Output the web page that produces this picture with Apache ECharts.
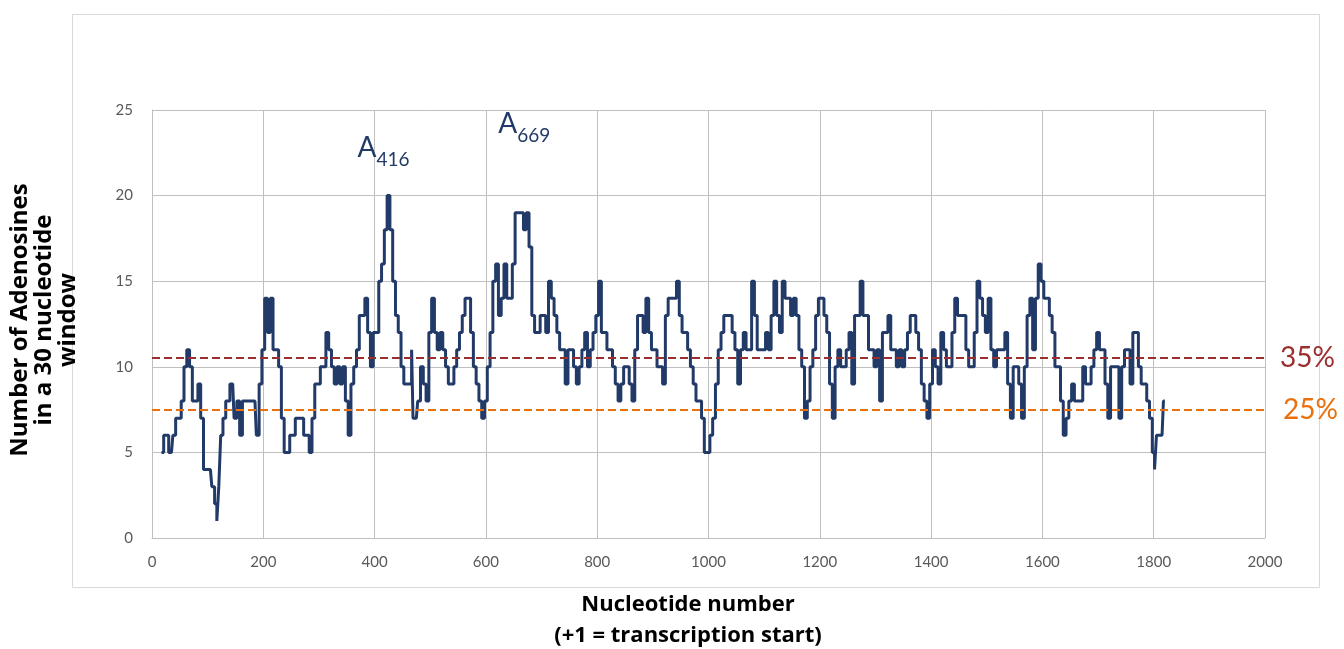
<!DOCTYPE html>
<html>
<head>
<meta charset="utf-8">
<script src="https://cdn.jsdelivr.net/npm/echarts@6/dist/echarts.min.js"></script>
<style>
  html, body { margin: 0; padding: 0; background: #fff; }
  #chart { width: 1344px; height: 649px; }
</style>
</head>
<body>
<div id="chart"></div>
<script>
// nucleotide position (x) and adenosine count in the 30 nt window (y)
const positions = [17,25,35,40,45,50,55,60,65,70,75,80,85,90,95,105,110,115,118,122,125,130,135,145,150,155,160,165,175,185,190,195,200,205,210,215,220,225,230,235,240,245,250,255,260,265,270,275,280,285,290,295,300,305,310,315,320,325,330,335,340,345,350,355,360,365,370,375,380,385,390,395,400,405,410,415,420,425,430,435,440,445,450,455,460,465,468,470,475,480,485,490,495,500,505,510,515,520,525,530,535,540,545,550,555,560,565,570,575,580,585,590,595,600,605,610,615,620,625,630,635,640,645,650,655,660,665,670,675,680,685,690,695,700,705,710,715,720,725,730,735,740,745,750,755,760,765,770,775,780,785,790,795,800,805,810,815,820,825,830,835,840,845,850,855,860,865,870,875,880,885,890,895,900,905,910,915,920,925,930,935,940,945,950,955,960,965,970,975,980,985,990,995,1000,1005,1010,1015,1020,1025,1030,1035,1040,1045,1050,1055,1060,1065,1070,1075,1080,1085,1090,1095,1100,1105,1110,1115,1120,1125,1130,1135,1140,1145,1150,1155,1160,1165,1170,1175,1180,1185,1190,1195,1200,1205,1210,1215,1220,1225,1230,1235,1240,1245,1250,1255,1260,1265,1270,1275,1280,1285,1290,1295,1300,1305,1310,1315,1320,1325,1330,1335,1340,1345,1350,1355,1360,1365,1370,1375,1380,1385,1390,1395,1400,1405,1410,1415,1420,1425,1430,1435,1440,1445,1450,1455,1460,1465,1470,1475,1480,1485,1490,1495,1500,1505,1510,1515,1520,1525,1530,1535,1540,1545,1550,1555,1560,1565,1570,1575,1580,1585,1590,1595,1600,1605,1610,1615,1620,1625,1630,1635,1640,1645,1650,1655,1660,1665,1670,1675,1680,1685,1690,1695,1700,1705,1710,1715,1720,1725,1730,1735,1740,1745,1750,1755,1760,1765,1770,1775,1780,1785,1790,1795,1800,1803,1807,1815,1820];
const counts = [5,6,5,6,7,7,8,10,11,10,8,8,9,7,4,4,3,2,1,3,6,7,8,9,7,8,6,8,8,8,6,9,11,14,12,14,11,11,10,7,5,5,6,6,7,7,7,6,6,5,7,9,9,10,10,12,11,10,9,10,9,10,8,6,9,10,11,13,13,14,12,10,12,12,15,16,18,20,18,15,13,12,10,9,9,9,11,7,7,8,10,9,8,12,14,12,11,12,11,10,9,9,10,11,12,13,14,14,12,10,9,8,7,8,10,12,15,16,13,14,16,14,14,16,19,19,19,18,19,17,13,12,12,13,13,12,15,14,13,12,11,11,9,11,11,10,9,10,11,12,10,11,12,13,15,12,12,11,11,10,9,8,9,10,10,9,8,11,13,13,12,14,12,11,11,10,10,9,13,14,14,14,15,13,12,12,11,10,9,8,8,7,5,5,6,7,9,11,12,13,13,13,12,11,9,11,12,11,11,15,13,11,11,11,12,11,13,15,13,12,15,14,14,13,14,13,11,10,7,8,10,11,13,14,14,13,12,9,7,10,11,10,10,11,12,9,13,13,15,13,13,11,11,10,11,8,12,12,13,11,11,10,11,10,11,12,13,13,12,11,9,8,7,9,11,10,9,12,11,10,10,12,14,13,13,13,11,10,10,12,15,14,13,12,14,11,10,11,11,11,12,9,7,10,10,9,7,10,13,14,11,14,16,15,14,14,13,12,10,10,8,6,7,8,9,8,8,8,10,9,9,10,11,12,11,11,9,7,10,10,10,7,10,11,11,9,12,12,10,9,9,8,7,5,4,6,6,8];

const xTicks = { min: 0, max: 2000, interval: 200 };
const yTicks = { min: 0, max: 25, interval: 5 };

// thresholds: 35% and 25% of a 30 nt window
const thresholds = [
  { name: "35%", value: 10.5, color: "#9b2f2f" },
  { name: "25%", value: 7.5, color: "#e8700d" }
];

// peak annotations
const peaks = [
  { label: "416", x: 416, y: 22.7 },
  { label: "669", x: 669, y: 24.1 }
];

const seriesData = positions.map((p, i) => [p, counts[i]]);
const font = "Lato, 'Open Sans', sans-serif";
const titleFont = "'Open Sans', Lato, sans-serif";

const chart = echarts.init(document.getElementById("chart"));
const option = {
  animation: false,
  backgroundColor: "#fff",
  grid: { left: 152, right: 79, top: 110, bottom: 111 },
  xAxis: {
    type: "value",
    min: xTicks.min,
    max: xTicks.max,
    interval: xTicks.interval,
    axisLine: { show: true, lineStyle: { color: "#bfbfbf" } },
    axisTick: { show: false },
    splitLine: { show: true, lineStyle: { color: "#bfbfbf", width: 1 } },
    axisLabel: { color: "#595959", fontSize: 15, margin: 17, fontFamily: font, formatter: v => String(v) }
  },
  yAxis: {
    type: "value",
    min: yTicks.min,
    max: yTicks.max,
    interval: yTicks.interval,
    axisLine: { show: true, lineStyle: { color: "#bfbfbf" } },
    axisTick: { show: false },
    splitLine: { show: true, lineStyle: { color: "#bfbfbf", width: 1 } },
    axisLabel: { color: "#595959", fontSize: 15, margin: 19, fontFamily: font }
  },
  series: [
    {
      type: "line",
      data: seriesData,
      step: "middle",
      showSymbol: false,
      lineStyle: { color: "#213a68", width: 3 },
      itemStyle: { color: "#213a68" },
      z: 3,
      markLine: {
        silent: true,
        symbol: "none",
        z: 4,
        data: thresholds.map((t, i) => ({
          yAxis: t.value,
          lineStyle: { color: t.color, type: [8, 4], width: 2.2 },
          label: {
            show: true,
            position: "end",
            formatter: t.name,
            color: t.color,
            fontSize: 28,
            fontFamily: font,
            distance: i === 0 ? 15 : 18,
            padding: i === 0 ? [12, 0, 0, 0] : 0
          }
        }))
      },
      markPoint: {
        silent: true,
        symbol: "circle",
        symbolSize: 0,
        data: peaks.map(p => ({
          coord: [p.x, p.y],
          label: {
            show: true,
            position: "inside",
            formatter: "{a|A}{s|" + p.label + "}",
            rich: {
              a: { fontSize: 28, lineHeight: 30, verticalAlign: "top", color: "#213a68", fontFamily: font },
              s: { fontSize: 19, lineHeight: 19, padding: [16, 0, 0, 0], verticalAlign: "top", color: "#213a68", fontFamily: font }
            }
          }
        }))
      }
    }
  ],
  graphic: [
    {
      type: "rect",
      left: 70, top: 12,
      shape: { width: 1247, height: 573 },
      style: { fill: "none", stroke: "#d9d9d9", lineWidth: 1 },
      silent: true,
      z: -1
    },
    {
      type: "text",
      x: 44, y: 320,
      rotation: Math.PI / 2,
      style: {
        text: "Number of Adenosines\nin a 30 nucleotide\nwindow",
        textAlign: "center",
        textVerticalAlign: "middle",
        font: "bold 24px " + titleFont,
        lineHeight: 24,
        fill: "#000"
      }
    },
    {
      type: "text",
      x: 688, y: 605,
      style: {
        text: "Nucleotide number",
        textAlign: "center",
        textVerticalAlign: "middle",
        font: "bold 22px " + titleFont,
        fill: "#000"
      }
    },
    {
      type: "text",
      x: 688, y: 636,
      style: {
        text: "(+1 = transcription start)",
        textAlign: "center",
        textVerticalAlign: "middle",
        font: "bold 22px " + titleFont,
        fill: "#000"
      }
    }
  ]
};
chart.setOption(option);
window.addEventListener("resize", () => {
  chart && chart.resize();
});
</script>
</body>
</html>
